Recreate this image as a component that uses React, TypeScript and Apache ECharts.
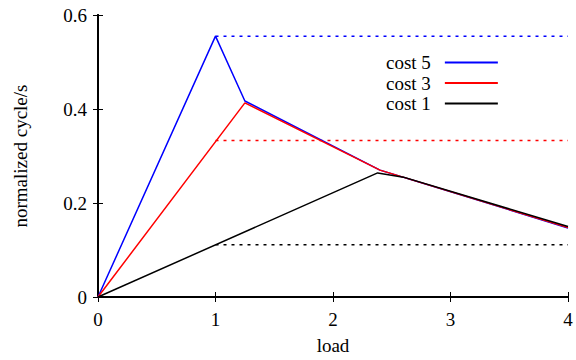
import React, { useEffect, useRef } from "react";
import * as echarts from "echarts";

const cost5: [number, number][] = [[0, 0], [1, 0.555], [1.25, 0.417], [2.4, 0.27], [4, 0.147]];
const cost3: [number, number][] = [[0, 0], [1.25, 0.413], [2.4, 0.27], [4, 0.148]];
const cost1: [number, number][] = [[0, 0], [2.38, 0.264], [2.6, 0.255], [4, 0.15]];
const limit5: [number, number][] = [[1, 0.555], [4, 0.555]];
const limit3: [number, number][] = [[1, 0.333], [4, 0.333]];
const limit1: [number, number][] = [[1, 0.111], [4, 0.111]];
const legendNames = ["cost 5", "cost 3", "cost 1"];

const FONT = "Liberation Serif";

export default function App() {
  const ref = useRef<HTMLDivElement>(null);
  useEffect(() => {
    if (!ref.current) return;
    const chart = echarts.init(ref.current, undefined, { renderer: "svg" });
    const axisLine = { show: true, lineStyle: { color: "#000", width: 2 } };
    const axisTick = { show: true, inside: true, length: 5, lineStyle: { color: "#000", width: 1 } };
    const solid = (name: string, data: [number, number][], color: string) => ({
      name,
      type: "line",
      data,
      symbol: "none",
      lineStyle: { color, width: 1.5 },
      itemStyle: { color },
      z: 3,
    });
    const dashed = (name: string, data: [number, number][], color: string) => ({
      name,
      type: "line",
      data,
      symbol: "none",
      lineStyle: { color, width: 1.5, type: [3, 5] },
      itemStyle: { color },
      z: 2,
    });
    chart.setOption({
      animation: false,
      grid: { left: 98, right: 8, top: 15, bottom: 63 },
      legend: {
        data: legendNames,
        orient: "vertical",
        left: 381,
        top: 48,
        align: "right",
        icon: "rect",
        itemWidth: 53,
        itemHeight: 2,
        itemGap: 1.5,
        textStyle: { fontFamily: FONT, fontSize: 19, color: "#000", padding: [0, 9, 0, 0] },
      },
      xAxis: [
        {
          type: "value",
          min: 0,
          max: 4,
          interval: 1,
          name: "load",
          nameLocation: "middle",
          nameGap: 39,
          nameTextStyle: { fontFamily: FONT, fontSize: 19, color: "#000" },
          axisLine,
          axisTick,
          axisLabel: { fontFamily: FONT, fontSize: 19, color: "#000", margin: 13 },
          splitLine: { show: false },
        },
        {
          type: "value",
          position: "top",
          min: 0,
          max: 4,
          interval: 1,
          axisLine,
          axisTick,
          axisLabel: { show: false },
          splitLine: { show: false },
        },
      ],
      yAxis: [
        {
          type: "value",
          min: 0,
          max: 0.6,
          interval: 0.2,
          name: "normalized cycle/s",
          nameLocation: "middle",
          nameGap: 68,
          nameTextStyle: { fontFamily: FONT, fontSize: 19, color: "#000" },
          axisLine,
          axisTick,
          axisLabel: {
            fontFamily: FONT,
            fontSize: 19,
            color: "#000",
            margin: 11,
            formatter: (v: number) => (v === 0 ? "0" : v.toFixed(1)),
          },
          splitLine: { show: false },
        },
        {
          type: "value",
          position: "right",
          min: 0,
          max: 0.6,
          interval: 0.2,
          axisLine,
          axisTick,
          axisLabel: { show: false },
          splitLine: { show: false },
        },
      ],
      series: [
        solid("cost 5", cost5, "#0000ff"),
        solid("cost 3", cost3, "#ff0000"),
        solid("cost 1", cost1, "#000000"),
        dashed("limit 5", limit5, "#0000ff"),
        dashed("limit 3", limit3, "#ff0000"),
        dashed("limit 1", limit1, "#000000"),
      ],
    });
    return () => chart.dispose();
  }, []);
  return <div ref={ref} style={{ width: 576, height: 360, position: "absolute", left: 0, top: 0 }} />;
}
